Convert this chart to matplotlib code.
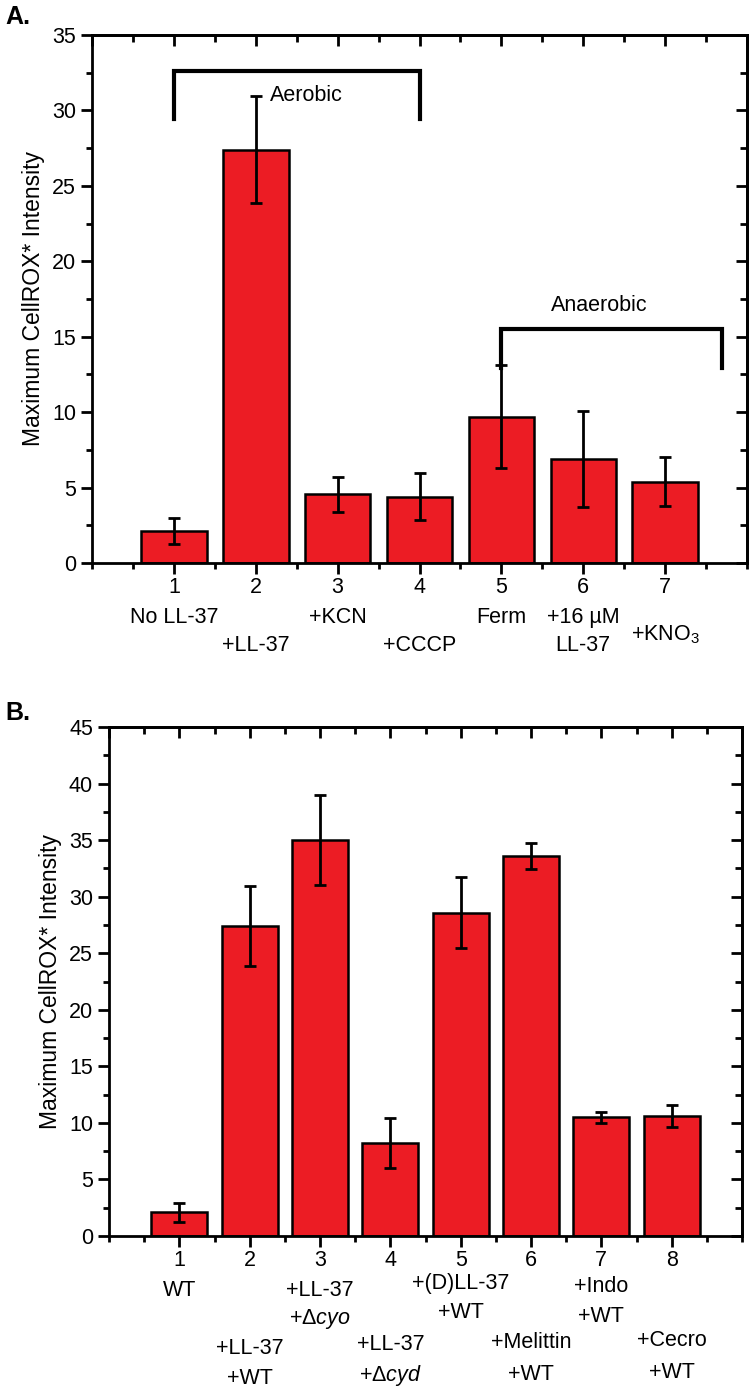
import matplotlib
matplotlib.use("Agg")
import matplotlib.pyplot as plt
from matplotlib.ticker import MultipleLocator
from matplotlib.transforms import blended_transform_factory

plt.rcParams['font.family'] = ['Liberation Sans', 'DejaVu Sans']
plt.rcParams['mathtext.fontset'] = 'custom'
plt.rcParams['mathtext.rm'] = 'Liberation Sans'
plt.rcParams['mathtext.it'] = 'Liberation Sans:italic'

# ---- Data ----
a_pos = [1, 2, 3, 4, 5, 6, 7]
a_vals = [2.1, 27.4, 4.55, 4.4, 9.7, 6.9, 5.4]
a_err = [0.85, 3.55, 1.15, 1.55, 3.4, 3.2, 1.65]
a_labels_row1 = {1: 'No LL-37', 3: '+KCN', 5: 'Ferm', 6: '+16 µM'}
a_labels_row2 = {2: '+LL-37', 4: '+CCCP', 6: 'LL-37'}
a_label_kno3 = '+KNO$_3$'

b_pos = [1, 2, 3, 4, 5, 6, 7, 8]
b_vals = [2.1, 27.4, 35.0, 8.2, 28.6, 33.6, 10.5, 10.6]
b_err = [0.85, 3.55, 4.0, 2.2, 3.1, 1.15, 0.5, 0.95]
b_labels_upper = {1: ['WT'], 3: ['+LL-37', r'+Δ$\mathit{cyo}$'],
                  5: ['+(D)LL-37', '+WT'], 7: ['+Indo', '+WT']}
b_labels_lower = {2: ['+LL-37', '+WT'], 4: ['+LL-37', r'+Δ$\mathit{cyd}$'],
                  6: ['+Melittin', '+WT'], 8: ['+Cecro', '+WT']}

BAR = '#EC1C24'
W, H = 750, 1391
FS = 15.5
fig = plt.figure(figsize=(W/100, H/100), dpi=100)

def fy(py):
    return 1 - py / H

def style(ax, xmax, ymax, ystep):
    ax.set_xlim(0, xmax)
    ax.set_ylim(0, ymax)
    ax.xaxis.set_major_locator(MultipleLocator(1))
    ax.xaxis.set_minor_locator(MultipleLocator(0.5))
    ax.yaxis.set_major_locator(MultipleLocator(ystep))
    ax.yaxis.set_minor_locator(MultipleLocator(ystep/2))
    for s in ax.spines.values():
        s.set_linewidth(2)
    ax.tick_params(which='major', direction='out', length=8, width=2,
                   labelsize=FS, top=False, right=False)
    ax.tick_params(which='minor', direction='out', length=4.5, width=2,
                   top=False, right=False)
    ax.set_ylabel('Maximum CellROX* Intensity', fontsize=16.5, labelpad=5)
    sec = ax.secondary_xaxis('top')
    sec.xaxis.set_major_locator(MultipleLocator(1))
    sec.xaxis.set_minor_locator(MultipleLocator(0.5))
    sec.tick_params(which='major', direction='in', length=8, width=2, labeltop=False)
    sec.tick_params(which='minor', direction='in', length=5, width=2)
    sec.spines['top'].set_linewidth(2)
    sec2 = ax.secondary_yaxis('right')
    sec2.yaxis.set_major_locator(MultipleLocator(ystep))
    sec2.yaxis.set_minor_locator(MultipleLocator(ystep/2))
    sec2.tick_params(which='major', direction='in', length=8, width=2, labelright=False)
    sec2.tick_params(which='minor', direction='in', length=5, width=2)
    sec2.spines['right'].set_linewidth(2)

ekw = dict(ecolor='black', elinewidth=2, capsize=4.5, capthick=2)

# ---------- Panel A ----------
axA = fig.add_axes([92/W, fy(563), (747-92)/W, (563-35)/H])
axA.bar(a_pos, a_vals, width=0.8, color=BAR, edgecolor='black', linewidth=1.8,
        yerr=a_err, error_kw=ekw, zorder=2)
style(axA, 8, 35, 5)
axA.set_xticks(a_pos)
axA.set_xticklabels([str(p) for p in a_pos])
axA.tick_params(axis='x', pad=2)

trA = blended_transform_factory(axA.transData, fig.transFigure)
for x, t in a_labels_row1.items():
    fig.text(x, fy(618), t, transform=trA, ha='center', va='center', fontsize=FS)
for x, t in a_labels_row2.items():
    fig.text(x, fy(645), t, transform=trA, ha='center', va='center', fontsize=FS)
fig.text(7, fy(635), a_label_kno3, transform=trA, ha='center', va='center', fontsize=FS)

# brackets
axA.plot([1, 1, 4, 4], [29.4, 32.6, 32.6, 29.4], color='black', lw=3,
         solid_joinstyle='miter', zorder=3)
axA.text(2.62, 31.0, 'Aerobic', ha='center', va='center', fontsize=FS)
axA.plot([5, 5, 7.7, 7.7], [12.9, 15.5, 15.5, 12.9], color='black', lw=3,
         solid_joinstyle='miter', zorder=3)
axA.text(6.2, 17.1, 'Anaerobic', ha='center', va='center', fontsize=FS)

fig.text(5/W, fy(17), 'A.', fontsize=18, fontweight='bold', ha='left', va='center')

# ---------- Panel B ----------
axB = fig.add_axes([109/W, fy(1236), (742-109)/W, (1236-727)/H])
axB.bar(b_pos, b_vals, width=0.8, color=BAR, edgecolor='black', linewidth=1.8,
        yerr=b_err, error_kw=ekw, zorder=2)
style(axB, 9, 45, 5)
axB.set_xticks(b_pos)
axB.set_xticklabels([str(p) for p in b_pos])
axB.tick_params(axis='x', pad=2)

trB = blended_transform_factory(axB.transData, fig.transFigure)
up_y = {1: 1290, 3: 1290, 5: 1283, 7: 1287}
for x, lines in b_labels_upper.items():
    for i, t in enumerate(lines):
        fig.text(x, fy(up_y[x] + 29*i), t, transform=trB, ha='center', va='center', fontsize=FS)
lo_y = {2: 1348, 4: 1345, 6: 1343, 8: 1341}
for x, lines in b_labels_lower.items():
    for i, t in enumerate(lines):
        fig.text(x, fy(lo_y[x] + 31*i), t, transform=trB, ha='center', va='center', fontsize=FS)

fig.text(5/W, fy(713), 'B.', fontsize=18, fontweight='bold', ha='left', va='center')

fig.savefig('out.png', dpi=100)
